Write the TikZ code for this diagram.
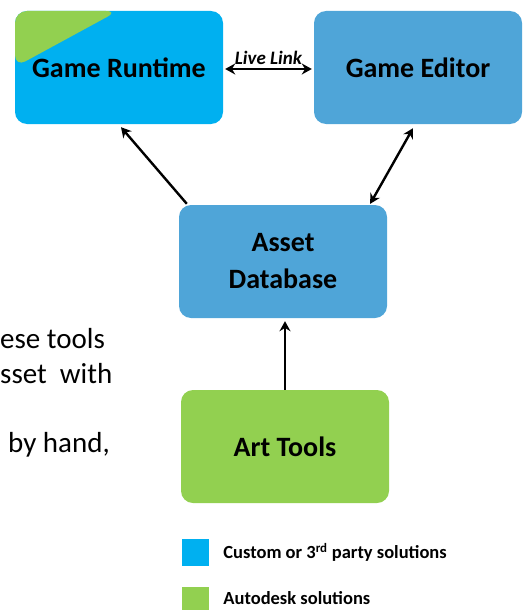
\documentclass[tikz,border=0pt]{standalone}
\usepackage{fontspec}
\setmainfont{Carlito}
\usetikzlibrary{arrows.meta, positioning}
\definecolor{custblue}{HTML}{00B0F0}
\definecolor{dbblue}{HTML}{4FA5D8}
\definecolor{adskgreen}{HTML}{92D050}
\tikzset{
    block/.style={
        rectangle,
        rounded corners=12pt,
        minimum width=208pt,
        minimum height=113pt,
        font=\fontsize{28}{37}\selectfont\bfseries,
        align=center
    },
    link/.style={
        draw=black,
        line width=2.4pt,
        -{Stealth[length=10pt,width=11pt]}
    },
    duallink/.style={
        link,
        {Stealth[length=10pt,width=11pt]}-{Stealth[length=10pt,width=11pt]}
    },
    swatch/.style={
        rectangle,
        minimum size=27pt,
        inner sep=0pt
    },
    legendtext/.style={
        font=\fontsize{18.5}{20}\selectfont\bfseries,
        anchor=west,
        inner sep=0pt
    },
    bodytext/.style={
        font=\fontsize{29}{34}\selectfont,
        anchor=base west,
        inner sep=0pt
    }
}

\begin{document}
\begin{tikzpicture}[x=1pt, y=-1pt]

\useasboundingbox (0,0) rectangle (527,610);

% main blocks
\node[block, fill=custblue,
      path picture={\fill[adskgreen] (path picture bounding box.north west)
        -- ++(103pt,0) -- ([yshift=-56pt]path picture bounding box.north west) -- cycle;}]
      (runtime) at (119,67.5) {Game Runtime};
\node[block, fill=dbblue] (editor) at (418,67.5) {Game Editor};
\node[block, fill=dbblue] (asset) at (283,261.5) {Asset\\Database};
\node[block, fill=adskgreen] (art) at (285,446.5) {Art Tools};

% connectors
\draw[duallink] ([xshift=2pt,yshift=-1.5pt]runtime.east) -- node[above=0pt, font=\fontsize{19}{21}\selectfont\bfseries\itshape] (livelink) {Live Link} ([xshift=-2pt,yshift=-1.5pt]editor.west);
\draw[link] ([xshift=8pt,yshift=1pt]asset.north west) -- ([xshift=2pt,yshift=-3pt]runtime.south);
\draw[duallink] ([xshift=-17pt,yshift=1pt]asset.north east) -- ([xshift=-5pt,yshift=-4pt]editor.south);
\draw[link] (art.north) -- ([yshift=-3pt]art.north |- asset.south);

% legend
\node[swatch, fill=custblue] (keycustom) at (195.5,552.5) {};
\node[swatch, fill=adskgreen, below=21pt of keycustom] (keyadsk) {};
\node[legendtext, right=14pt of keycustom] (keycustomtext) {Custom or 3\textsuperscript{rd} party solutions};
\node[legendtext, right=14pt of keyadsk, yshift=3pt] (keyadsktext) {Autodesk solutions};

% clipped body text
\node[bodytext] (bodya) at (0,348) {ese tools};
\node[bodytext] (bodyb) at (0,383) {sset\ \ with};
\node[bodytext] (bodyc) at (8,452) {by hand,};

\end{tikzpicture}
\end{document}
